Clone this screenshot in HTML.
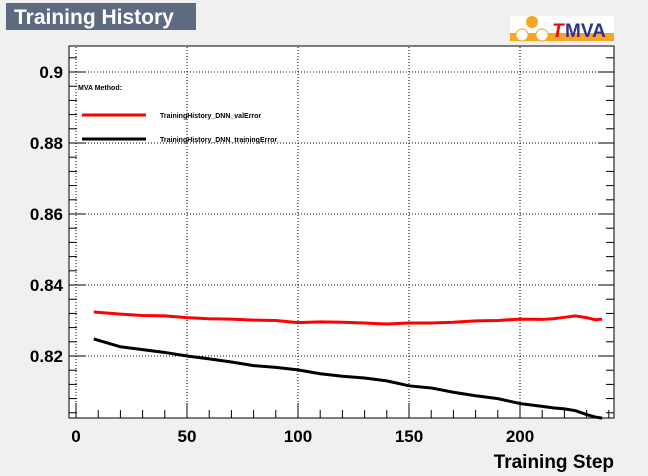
<!DOCTYPE html>
<html><head><meta charset="utf-8"><style>
body{margin:0;background:#f0f0f0;}
svg{display:block;font-family:"Liberation Sans",sans-serif;}
</style></head><body>
<svg id="c" width="648" height="476">
<rect x="0" y="0" width="648" height="476" fill="#f0f0f0"/>
<rect x="6" y="3" width="190" height="27" fill="#5e6a80"/>
<text x="14" y="24" font-size="21" font-weight="bold" fill="#fff">Training History</text>
<g>
<rect x="510" y="16" width="104" height="25" fill="#fff"/>
<rect x="510" y="33" width="104" height="8" fill="#f5a623"/>
<circle cx="532" cy="22" r="6" fill="#f5a623"/>
<circle cx="522" cy="35" r="6" fill="#fff" stroke="#f5a623"/>
<circle cx="542" cy="35" r="6" fill="#fff" stroke="#f5a623"/>
<text x="552" y="37" font-size="19" font-weight="bold" fill="#f00" font-style="italic">T</text>
<text x="565" y="37" font-size="19" font-weight="bold" fill="#2e3192">MVA</text>
</g>
<rect x="69" y="46" width="545" height="372" fill="#fff" stroke="#000"/>
<g id="grid"></g><g id="axes"></g><g id="series"></g>
<g>
<text x="78" y="90" font-size="7" font-weight="bold">MVA Method:</text>
<line x1="82" y1="115" x2="146" y2="115" stroke="#f00" stroke-width="3"/>
<text x="160" y="118" font-size="7" font-weight="bold">TrainingHistory_DNN_valError</text>
<line x1="82" y1="139" x2="146" y2="139" stroke="#000" stroke-width="3"/>
<text x="160" y="142" font-size="7" font-weight="bold">TrainingHistory_DNN_trainingError</text>
</g>
<text x="614" y="468" font-size="19" font-weight="bold" text-anchor="end">Training Step</text>
</svg>
<script>
const steps=[8,20,30,40,50,60,70,80,90,100,110,120,130,140,150,160,170,180,190,200,210,215,220,225,230,234,237];
const valError=[0.8324,0.8318,0.8314,0.8313,0.8308,0.8305,0.8304,0.8301,0.8300,0.8294,0.8296,0.8295,0.8293,0.8290,0.8293,0.8293,0.8295,0.8299,0.8300,0.8304,0.8303,0.8305,0.8309,0.8313,0.8308,0.8302,0.8304];
const trainingError=[0.8248,0.8226,0.8218,0.8210,0.8200,0.8192,0.8183,0.8173,0.8168,0.8161,0.8150,0.8143,0.8138,0.8130,0.8116,0.8110,0.8098,0.8088,0.8080,0.8066,0.8058,0.8054,0.8051,0.8046,0.8035,0.8028,0.8025];
const xTicks=[0,50,100,150,200];
const yTicks=[0.82,0.84,0.86,0.88,0.9];
const NS="http://www.w3.org/2000/svg";
const X=v=>76+v*2.22, Y=v=>356-(v-0.82)*3550;
function mk(t,a,p){const e=document.createElementNS(NS,t);for(const k in a)e.setAttribute(k,a[k]);document.getElementById(p).appendChild(e);return e;}
xTicks.forEach(v=>{
 const g=mk('line',{x1:X(v),x2:X(v),y1:47,y2:417,stroke:'#000','stroke-dasharray':'1,2','stroke-width':1},'grid');
 
 
 const t=mk('text',{x:X(v),y:442,'font-size':17,'font-weight':'bold','text-anchor':'middle'},'axes');
 t.textContent=v;
 
 
});
for(let v=0;v<=240;v+=10){mk('line',{x1:X(v),x2:X(v),y1:418,y2:v%50?410:403,stroke:'#000'},'axes');}
yTicks.forEach(v=>{
 const g=mk('line',{x1:70,x2:613,y1:Y(v),y2:Y(v),stroke:'#000','stroke-dasharray':'1,2'},'grid');
 
 
 const t=mk('text',{x:63,y:Y(v)+6,'font-size':17,'font-weight':'bold','text-anchor':'end'},'axes');
 t.textContent=String(v).replace(/0+$/,'');
 
 
});
for(let v=0.804;v<0.907;v+=0.004){const m=Math.abs((v*100)%2)<0.01||Math.abs((v*100)%2-2)<0.01;mk('line',{x1:69,x2:m?85:77,y1:Y(v),y2:Y(v),stroke:'#000'},'axes');mk('line',{x1:614,x2:m?598:606,y1:Y(v),y2:Y(v),stroke:'#000'},'axes');}
function line(vals,color,name){
 const p=mk('polyline',{points:steps.map((s,i)=>X(s)+','+Y(vals[i])).join(' '),fill:'none',stroke:color,'stroke-width':3},'series');
 
 
}
line(valError,'#f00','val-error-line');
line(trainingError,'#000','training-error-line');
</script>
</body></html>
